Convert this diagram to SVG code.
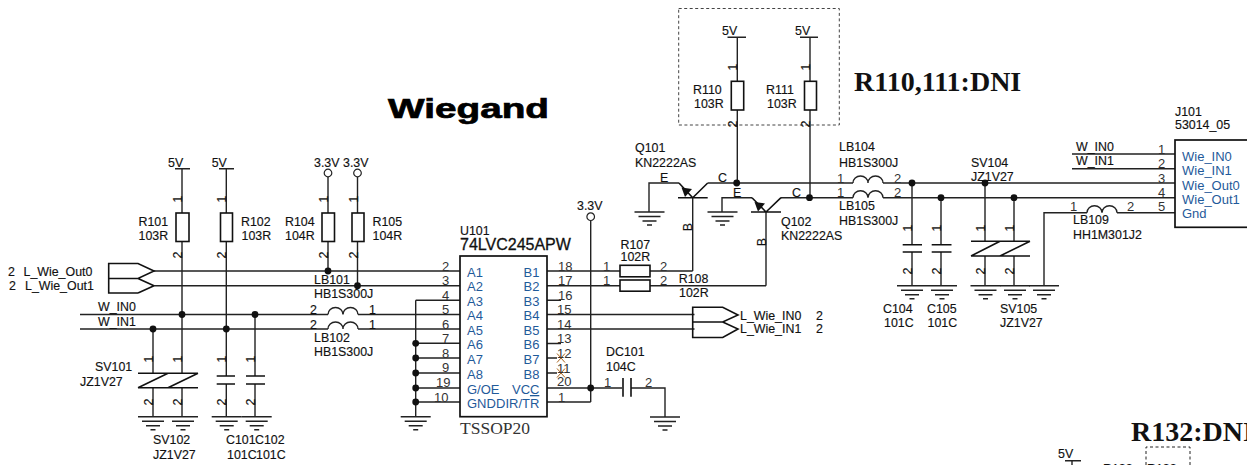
<svg xmlns="http://www.w3.org/2000/svg" width="1247" height="465" viewBox="0 0 1247 465">
<style>
text{font-family:"Liberation Sans",Arial,sans-serif;font-size:12.4px;fill:#111;stroke:#111;stroke-width:.15}
.w{fill:none;stroke:#222;stroke-width:1.4}
.b{fill:none;stroke:#111;stroke-width:1.6}
.n{font-size:13px;fill:#333;stroke:none}
.p{font-size:13px;fill:#1f5a9a;stroke:none}
.t{font-family:"Liberation Serif","Times New Roman",serif;font-weight:bold;font-size:28px;fill:#111;stroke:none}
.v{text-anchor:middle}
.d{fill:#111}
.title{font-weight:bold;font-size:28px;fill:#000;stroke:#000;stroke-width:.7}
.part{font-size:16px;stroke-width:.3}
.pkg{font-family:"Liberation Serif","Times New Roman",serif;font-size:17.5px;fill:#333;stroke:none}
</style>
<defs>
<g id="gnd" class="w"><path d="M-15 0H15M-11 4.5H11M-7 9H7M-2.5 13H2.5"/></g>
<path id="ind" class="w" d="M0 0a7.5 7 0 0 1 15 0a7.5 7 0 0 1 15 0"/>
<circle id="j" class="d" r="3.4"/>
<circle id="pwr" r="3.8" fill="#fff" stroke="#222" stroke-width="1.2"/>
</defs>
<g id="title"><text class="title" x="388" y="118" textLength="161" lengthAdjust="spacingAndGlyphs">Wiegand</text></g>
<g id="note-r110"><text class="t" x="854" y="91">R110,111:DNI</text></g>
<g id="note-r132"><text class="t" x="1131" y="441">R132:DNI</text></g>
<g id="connectors">
<path class="w" d="M154 271H460M154 285.7H460M80 314.5H328M358 314.5H460M80 329H328M358 329H460"/>
<path class="w" d="M182 168.7V213M182 241.5V373.3M182 387.7V416.7M226.3 168.7V213M226.3 241.5V376M226.3 384V416.7M153 329V373.3M153 387.7V416.7M255 314.5V376M255 384V416.7"/>
<path class="w" d="M328 177V213M328 241.5V271M357.5 177V213M357.5 241.5V285.7"/>
<path class="w" d="M415.7 300.3V416.7M415.7 300.3H460M415.7 343.3H460M415.7 358H460M415.7 373H460M415.7 388H460M415.7 402H460"/>
<path class="w" d="M547 271H620M650 271H692.7M547 285.7H620M650 285.7H766M547 300.3H561M547 314.5H694.5M547 329H694.5M547 343.5H561M547 358H557M547 373H557M547 388H622M631 388H665V417M547 402H590.7M590.7 220.5V402"/>
<path class="w" d="M692.7 271V197.7M766 285.7V212M649 212V183H679M722 212V197.7H752M707.7 183H853M883 183H1175M781 197.7H853M883 197.7H1175"/>
<path class="w" d="M737.3 37.3V81.3M737.3 110V183M810 37.3V81.3M810 110V197.7"/>
<path class="w" d="M912 183V244.7M912 252V285.7M941 197.7V244.7M941 252V285.7M985 183V241.3M985 256V285.7M1014 197.7V241.3M1014 256V285.7M1044 285.7V212.7H1087M1117 212.7H1175M1072 154H1175M1072 168.7H1175"/>
<path class="w" d="M1072 460.7V465"/>
<use href="#j" x="182" y="314.5"/><use href="#j" x="226.3" y="329"/><use href="#j" x="153" y="329"/><use href="#j" x="255" y="314.5"/>
<use href="#j" x="328" y="271"/><use href="#j" x="357.5" y="285.7"/>
<use href="#j" x="415.7" y="343.3"/><use href="#j" x="415.7" y="358"/><use href="#j" x="415.7" y="373"/><use href="#j" x="415.7" y="388"/><use href="#j" x="415.7" y="402"/>
<use href="#j" x="590.7" y="388"/>
<use href="#j" x="736.7" y="183"/><use href="#j" x="809.5" y="197.7"/><use href="#j" x="912" y="183"/><use href="#j" x="941" y="197.7"/><use href="#j" x="985" y="183"/><use href="#j" x="1014" y="197.7"/>
<path d="M557 353.5l8 9M565 353.5l-8 9M557 368.5l8 9M565 368.5l-8 9" fill="none" stroke="#a8641e" stroke-width="1"/>
<text x="98" y="311">W_IN0</text><text x="98" y="326">W_IN1</text>
<text x="1076" y="151">W_IN0</text><text x="1076" y="165">W_IN1</text>
</g>
<g id="grounds">
<use href="#gnd" x="153" y="416.7"/><use href="#gnd" x="183" y="416.7"/><use href="#gnd" x="226.7" y="416.7"/><use href="#gnd" x="256.7" y="416.7"/><use href="#gnd" x="415.7" y="416.7"/><use href="#gnd" x="665" y="417"/>
<use href="#gnd" x="649.5" y="212"/><use href="#gnd" x="722.5" y="212"/>
<use href="#gnd" x="912" y="285.7"/><use href="#gnd" x="942" y="285.7"/><use href="#gnd" x="985.5" y="285.7"/><use href="#gnd" x="1015" y="285.7"/><use href="#gnd" x="1044" y="285.7"/>
</g>
<g id="pwr-5v"><text x="168" y="167">5V</text><text x="211.7" y="167">5V</text><text x="722" y="35">5V</text><text x="795" y="35">5V</text><text x="1058" y="458">5V</text>
<path class="w" d="M175 168.7H190M219 168.7H234M727.5 37.3H746M800 37.3H818M1065 460.7H1081"/></g>
<g id="pwr-33v"><text x="314" y="167">3.3V</text><text x="343" y="167">3.3V</text><text x="577" y="210">3.3V</text>
<use href="#pwr" x="328" y="173"/><use href="#pwr" x="357.5" y="173"/><use href="#pwr" x="590.7" y="216.7"/></g>
<g id="L_Wie_Out"><path class="b" d="M154 271L138 263.5H108.7V278.5H138ZM154 285.7L138 278.5M138 293H108.7V278.5M138 293L154 285.7"/>
<text x="8" y="276">2</text><text x="23.5" y="276">L_Wie_Out0</text><text x="9" y="290">2</text><text x="25" y="290">L_Wie_Out1</text></g>
<g id="L_Wie_IN"><path class="b" d="M738 315L722.7 307.3H692.7V322H722.7ZM722.7 322L738 329L722.7 337.5H692.7V322"/>
<text x="740" y="319.5">L_Wie_IN0</text><text x="816" y="319.5">2</text><text x="740" y="333">L_Wie_IN1</text><text x="816" y="333">2</text></g>
<g id="R101"><rect class="b" x="176" y="213" width="13" height="28.5"/><text x="138.5" y="225.7">R101</text><text x="138.5" y="239.5">103R</text>
<text class="v" transform="translate(182 199) rotate(-90)">1</text><text class="v" transform="translate(182 255) rotate(-90)">2</text></g>
<g id="R102"><rect class="b" x="220.5" y="213" width="12" height="28.5"/><text x="241" y="225.7">R102</text><text x="241.5" y="239.5">103R</text>
<text class="v" transform="translate(226 199) rotate(-90)">1</text><text class="v" transform="translate(226 255) rotate(-90)">2</text></g>
<g id="R104"><rect class="b" x="322" y="213" width="12.5" height="28.5"/><text x="285" y="225.7">R104</text><text x="285" y="239.5">104R</text>
<text class="v" transform="translate(328 199) rotate(-90)">1</text><text class="v" transform="translate(328 255) rotate(-90)">2</text></g>
<g id="R105"><rect class="b" x="352" y="213" width="12" height="28.5"/><text x="372.5" y="225.7">R105</text><text x="372.5" y="239.5">104R</text>
<text class="v" transform="translate(357.5 199) rotate(-90)">1</text><text class="v" transform="translate(357.5 255) rotate(-90)">2</text></g>
<g id="LB101"><text x="314" y="283.5">LB101</text><text x="314" y="297.7">HB1S300J</text><use href="#ind" x="328" y="314.5"/><text x="310" y="314">2</text><text x="369" y="314">1</text></g>
<g id="LB102"><text x="314" y="342">LB102</text><text x="314" y="356">HB1S300J</text><use href="#ind" x="328" y="329"/><text x="310" y="328.7">2</text><text x="369" y="328.7">1</text></g>
<g id="SV101"><path class="b" d="M138 373.3H168M138 387.7H168M138 387.7L168 373.3"/><text x="95" y="371">SV101</text><text x="80" y="386">JZ1V27</text>
<text class="v" transform="translate(153 359) rotate(-90)">1</text><text class="v" transform="translate(153 402) rotate(-90)">2</text></g>
<g id="SV102"><path class="b" d="M168 373.3H198M168 387.7H198M168 387.7L198 373.3"/><text x="153" y="444">SV102</text><text x="153" y="459">JZ1V27</text>
<text class="v" transform="translate(182 359) rotate(-90)">1</text><text class="v" transform="translate(182 402) rotate(-90)">2</text></g>
<g id="C101"><path class="b" d="M216.7 376H235M216.7 384H235"/><text x="226" y="444">C101</text><text x="227" y="459">101C</text>
<text class="v" transform="translate(226 359) rotate(-90)">1</text><text class="v" transform="translate(226 402) rotate(-90)">2</text></g>
<g id="C102"><path class="b" d="M246 376H265M246 384H265"/><text x="255" y="444">C102</text><text x="256" y="459">101C</text>
<text class="v" transform="translate(255 359) rotate(-90)">1</text><text class="v" transform="translate(255 402) rotate(-90)">2</text></g>
<g id="U101">
<rect x="460" y="256" width="87" height="160.7" fill="#fff" stroke="#111" stroke-width="1.7"/>
<text x="460" y="235">U101</text><text class="part" x="460" y="249.5">74LVC245APW</text>
<text class="pkg" x="460" y="434">TSSOP20</text>
<text class="p" x="467" y="277">A1</text><text class="p" x="467" y="291">A2</text><text class="p" x="467" y="306">A3</text><text class="p" x="467" y="320">A4</text><text class="p" x="467" y="335">A5</text><text class="p" x="467" y="349">A6</text><text class="p" x="467" y="364">A7</text><text class="p" x="467" y="379">A8</text><text class="p" x="467" y="394">G/OE</text><text class="p" x="467" y="408">GND</text>
<text class="p" x="523.5" y="277">B1</text><text class="p" x="523.5" y="291">B2</text><text class="p" x="523.5" y="306">B3</text><text class="p" x="523.5" y="320">B4</text><text class="p" x="523.5" y="335">B5</text><text class="p" x="523.5" y="349">B6</text><text class="p" x="523.5" y="364">B7</text><text class="p" x="523.5" y="379">B8</text><text class="p" x="512" y="394">VCC</text><text class="p" x="496" y="408">DIR/T<tspan style="text-decoration:overline">R</tspan></text>
<text class="n" x="442" y="270.7">2</text><text class="n" x="442" y="285">3</text><text class="n" x="442" y="300">4</text><text class="n" x="442" y="314">5</text><text class="n" x="442" y="329">6</text><text class="n" x="442" y="343">7</text><text class="n" x="442" y="358">8</text><text class="n" x="442" y="372">9</text><text class="n" x="436" y="387">19</text><text class="n" x="434" y="402">10</text>
<text class="n" x="558" y="270.7">18</text><text class="n" x="558" y="285">17</text><text class="n" x="558" y="300">16</text><text class="n" x="557" y="314">15</text><text class="n" x="557" y="329">14</text><text class="n" x="557" y="343">13</text><text class="n" x="557" y="358">12</text><text class="n" x="557" y="373">11</text><text class="n" x="557" y="386">20</text><text class="n" x="558" y="402">1</text>
</g>
<g id="R107"><rect class="b" x="620" y="265.3" width="30" height="11.5"/><text x="620.5" y="249">R107</text><text x="620.5" y="260.7">102R</text><text class="n" x="603" y="270.7">1</text><text class="n" x="660" y="270.7">2</text></g>
<g id="R108"><rect class="b" x="620" y="280" width="30" height="11.2"/><text x="678.7" y="283.3">R108</text><text x="679" y="297.3">102R</text><text class="n" x="603" y="285">1</text><text class="n" x="660" y="285">2</text></g>
<g id="DC101"><path class="b" d="M623 378V396.7M631 378V396.7"/><text x="606" y="355.7">DC101</text><text x="606" y="371">104C</text><text class="n" x="604" y="387">1</text><text class="n" x="645" y="387">2</text></g>
<g id="dni-box"><rect x="678.7" y="8.5" width="160.6" height="116.5" fill="none" stroke="#444" stroke-width="1" stroke-dasharray="3 2.5"/></g>
<g id="R110"><rect class="b" x="731.3" y="81.3" width="12.4" height="28.7"/><text x="693" y="94">R110</text><text x="694" y="108">103R</text>
<text class="v" transform="translate(737 67) rotate(-90)">1</text><text class="v" transform="translate(737 124) rotate(-90)">2</text></g>
<g id="R111"><rect class="b" x="804.5" y="81.3" width="12" height="28.7"/><text x="766" y="94">R111</text><text x="767" y="108">103R</text>
<text class="v" transform="translate(810 67) rotate(-90)">1</text><text class="v" transform="translate(810 124) rotate(-90)">2</text></g>
<g id="Q101"><path class="b" d="M678 197.7H707.7M692.7 197.7L707.7 183M692.7 197.7L679 183"/><path class="d" d="M681.5 187.5L692 189L685 197Z"/>
<text x="635" y="151.7">Q101</text><text x="635" y="166.7">KN2222AS</text><text x="660" y="182">E</text><text x="718" y="182">C</text><text class="v" transform="translate(692 227) rotate(-90)">B</text></g>
<g id="Q102"><path class="b" d="M751 212H781M766 212L781 197.7M766 212L752 197.7"/><path class="d" d="M754.5 202L765 203.5L758 211.5Z"/>
<text x="781" y="225.7">Q102</text><text x="781" y="240">KN2222AS</text><text x="733" y="197">E</text><text x="792" y="197">C</text><text class="v" transform="translate(766 242) rotate(-90)">B</text></g>
<g id="LB104"><use href="#ind" x="853" y="183"/><text x="839" y="151">LB104</text><text x="839" y="166.7">HB1S300J</text><text class="n" x="837" y="182.7">1</text><text class="n" x="894" y="182.7">2</text></g>
<g id="LB105"><use href="#ind" x="853" y="197.7"/><text x="839" y="210">LB105</text><text x="839" y="225">HB1S300J</text><text class="n" x="837" y="197">1</text><text class="n" x="894" y="197">2</text></g>
<g id="C104"><path class="b" d="M902.7 244.7H922M902.7 252H922"/><text x="883" y="312.7">C104</text><text x="884" y="327">101C</text>
<text class="v" transform="translate(912 228) rotate(-90)">1</text><text class="v" transform="translate(912 271) rotate(-90)">2</text></g>
<g id="C105"><path class="b" d="M931.7 244.7H951.5M931.7 252H951.5"/><text x="927" y="312.7">C105</text><text x="927.5" y="327">101C</text>
<text class="v" transform="translate(941 228) rotate(-90)">1</text><text class="v" transform="translate(941 271) rotate(-90)">2</text></g>
<g id="SV104"><path class="b" d="M971 241.3H1000M971 256H1000M971 256L1000 241.3"/><text x="971" y="166.7">SV104</text><text x="971" y="181">JZ1V27</text>
<text class="v" transform="translate(985 228) rotate(-90)">1</text><text class="v" transform="translate(985 271) rotate(-90)">2</text></g>
<g id="SV105"><path class="b" d="M1000 241.3H1030M1000 256H1030M1000 256L1030 241.3"/><text x="1000" y="312.7">SV105</text><text x="1000" y="327">JZ1V27</text>
<text class="v" transform="translate(1014 228) rotate(-90)">1</text><text class="v" transform="translate(1014 271) rotate(-90)">2</text></g>
<g id="LB109"><use href="#ind" x="1087" y="212.7"/><text x="1073" y="224.3">LB109</text><text x="1073" y="239.3">HH1M301J2</text><text class="n" x="1070" y="211">1</text><text class="n" x="1127" y="211">2</text></g>
<g id="J101"><rect x="1175" y="140" width="80" height="87.3" fill="#fff" stroke="#111" stroke-width="1.7"/>
<text x="1175" y="116">J101</text><text x="1175" y="129.3">53014_05</text>
<text class="p" x="1182" y="161">Wie_IN0</text><text class="p" x="1182" y="175">Wie_IN1</text><text class="p" x="1182" y="190">Wie_Out0</text><text class="p" x="1182" y="204">Wie_Out1</text><text class="p" x="1182" y="218">Gnd</text>
<text class="n" x="1158" y="154.3">1</text><text class="n" x="1158" y="168">2</text><text class="n" x="1158" y="182.6">3</text><text class="n" x="1158" y="197">4</text><text class="n" x="1158" y="211">5</text></g>
<g id="R132-fragment"><path d="M1146 465V447H1190V465" fill="none" stroke="#222" stroke-width="1" stroke-dasharray="3 2.5"/><text x="1103" y="473">R132</text><text x="1147" y="473">R132</text></g>
</svg>
